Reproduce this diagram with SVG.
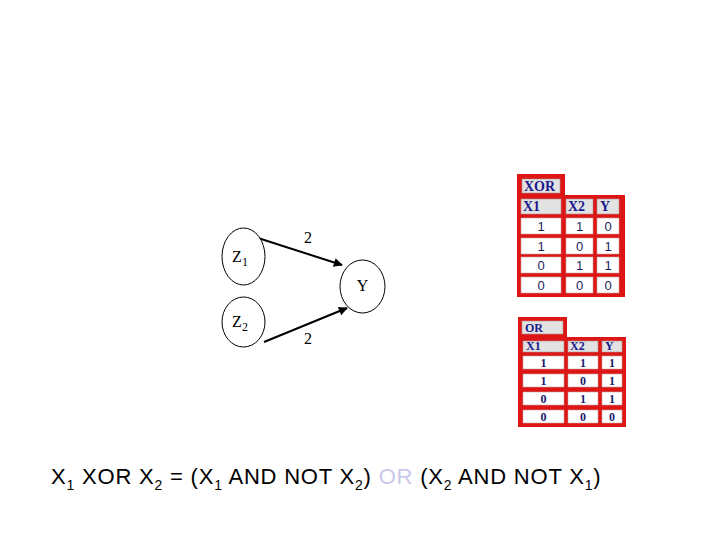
<svg xmlns="http://www.w3.org/2000/svg" width="720" height="540" viewBox="0 0 720 540">
<defs>
<marker id="ah" viewBox="0 0 10 10" refX="9" refY="5" markerWidth="5" markerHeight="4.5" orient="auto" markerUnits="strokeWidth">
<path d="M0,0 L10,5 L0,10 z" fill="#000"/>
</marker>
</defs>
<style>
.node{fill:#fff;stroke:#000;stroke-width:1}
.lbl{font-family:"Liberation Serif",serif;font-size:16px;fill:#000;text-anchor:middle}
.edge{stroke:#000;stroke-width:2;fill:none;marker-end:url(#ah)}
.tb{fill:#dd1515}
.hc{fill:#e2e2e2;stroke:#b09090;stroke-width:0.6}
.dc{fill:#fff;stroke:#c8a0a0;stroke-width:0.6}
.th{font-family:"Liberation Serif",serif;font-weight:bold;fill:#1a1a8c}
.td1{font-family:"Liberation Sans",sans-serif;font-size:13px;fill:#1e1e5a;text-anchor:middle}
.td2{font-family:"Liberation Serif",serif;font-weight:bold;font-size:12px;fill:#1a1a6e;text-anchor:middle}
.eq{font-family:"Liberation Sans",sans-serif;font-size:22px;fill:#000;letter-spacing:0.8px}
</style>
<rect width="720" height="540" fill="#fff"/>
<g id="edges">
<line class="edge" x1="258" y1="238" x2="342" y2="265"/>
<line class="edge" x1="264" y1="342" x2="347" y2="308"/>
<text class="lbl" x="308" y="243">2</text>
<text class="lbl" x="308" y="344">2</text>
</g>
<g id="Z1">
<ellipse class="node" cx="243.5" cy="256.5" rx="21.5" ry="28.5"/>
<text class="lbl" x="240" y="262">Z<tspan font-size="12" dy="4">1</tspan></text>
</g>
<g id="Z2">
<ellipse class="node" cx="243.5" cy="322" rx="21.5" ry="25"/>
<text class="lbl" x="240" y="327">Z<tspan font-size="12" dy="4">2</tspan></text>
</g>
<g id="Y">
<ellipse class="node" cx="362.5" cy="286.5" rx="22.5" ry="26.5"/>
<text class="lbl" x="362.5" y="291">Y</text>
</g>
<g id="xor_table">
<rect class="tb" x="517" y="174" width="48" height="25"/>
<rect class="tb" x="517" y="195" width="108" height="102"/>
<rect class="hc" x="522" y="179" width="38" height="14"/>
<text class="th" x="524" y="191" font-size="14">XOR</text>
<rect class="hc" x="521" y="199" width="40" height="15"/>
<rect class="hc" x="566" y="199" width="27" height="15"/>
<rect class="hc" x="597" y="199" width="22" height="15"/>
<text class="th" x="523" y="211" font-size="14">X1</text>
<text class="th" x="568" y="211" font-size="14">X2</text>
<text class="th" x="600" y="211" font-size="14">Y</text>
<rect class="dc" x="521" y="218" width="40" height="16"/>
<rect class="dc" x="566" y="218" width="27" height="16"/>
<rect class="dc" x="597" y="218" width="22" height="16"/>
<rect class="dc" x="521" y="238" width="40" height="16"/>
<rect class="dc" x="566" y="238" width="27" height="16"/>
<rect class="dc" x="597" y="238" width="22" height="16"/>
<rect class="dc" x="521" y="257" width="40" height="16"/>
<rect class="dc" x="566" y="257" width="27" height="16"/>
<rect class="dc" x="597" y="257" width="22" height="16"/>
<rect class="dc" x="521" y="277" width="40" height="16"/>
<rect class="dc" x="566" y="277" width="27" height="16"/>
<rect class="dc" x="597" y="277" width="22" height="16"/>
<text class="td1" x="541" y="231">1</text><text class="td1" x="579.5" y="231">1</text><text class="td1" x="608" y="231">0</text>
<text class="td1" x="541" y="251">1</text><text class="td1" x="579.5" y="251">0</text><text class="td1" x="608" y="251">1</text>
<text class="td1" x="541" y="270">0</text><text class="td1" x="579.5" y="270">1</text><text class="td1" x="608" y="270">1</text>
<text class="td1" x="541" y="290">0</text><text class="td1" x="579.5" y="290">0</text><text class="td1" x="608" y="290">0</text>
</g>
<g id="or_table">
<rect class="tb" x="518" y="317" width="49" height="24"/>
<rect class="tb" x="518" y="337" width="108" height="90"/>
<rect class="hc" x="522" y="321" width="41" height="13"/>
<text class="th" x="525" y="332" font-size="12">OR</text>
<rect class="hc" x="523" y="341" width="41" height="11"/>
<rect class="hc" x="568" y="341" width="30" height="11"/>
<rect class="hc" x="602" y="341" width="20" height="11"/>
<text class="th" x="526" y="350" font-size="12">X1</text>
<text class="th" x="570" y="350" font-size="12">X2</text>
<text class="th" x="605" y="350" font-size="12">Y</text>
<rect class="dc" x="523" y="356" width="41" height="13"/>
<rect class="dc" x="568" y="356" width="30" height="13"/>
<rect class="dc" x="602" y="356" width="20" height="13"/>
<rect class="dc" x="523" y="374" width="41" height="13"/>
<rect class="dc" x="568" y="374" width="30" height="13"/>
<rect class="dc" x="602" y="374" width="20" height="13"/>
<rect class="dc" x="523" y="392" width="41" height="13"/>
<rect class="dc" x="568" y="392" width="30" height="13"/>
<rect class="dc" x="602" y="392" width="20" height="13"/>
<rect class="dc" x="523" y="410" width="41" height="13"/>
<rect class="dc" x="568" y="410" width="30" height="13"/>
<rect class="dc" x="602" y="410" width="20" height="13"/>
<text class="td2" x="543.5" y="367">1</text><text class="td2" x="583" y="367" font-weight="normal">1</text><text class="td2" x="612" y="367">1</text>
<text class="td2" x="543.5" y="385">1</text><text class="td2" x="583" y="385" font-weight="normal">0</text><text class="td2" x="612" y="385">1</text>
<text class="td2" x="543.5" y="403" font-weight="normal">0</text><text class="td2" x="583" y="403" font-weight="normal">1</text><text class="td2" x="612" y="403">1</text>
<text class="td2" x="543.5" y="421" font-weight="normal">0</text><text class="td2" x="583" y="421" font-weight="normal">0</text><text class="td2" x="612" y="421" font-weight="normal">0</text>
</g>
<text class="eq" x="51" y="484">X<tspan font-size="14" dy="6">1</tspan><tspan dy="-6"> XOR X</tspan><tspan font-size="14" dy="6">2</tspan><tspan dy="-6"> = (X</tspan><tspan font-size="14" dy="6">1</tspan><tspan dy="-6"> AND NOT X</tspan><tspan font-size="14" dy="6">2</tspan><tspan dy="-6">) </tspan><tspan fill="#c8c8e8">OR</tspan><tspan> (X</tspan><tspan font-size="14" dy="6">2</tspan><tspan dy="-6"> AND NOT X</tspan><tspan font-size="14" dy="6">1</tspan><tspan dy="-6">)</tspan></text>
</svg>
